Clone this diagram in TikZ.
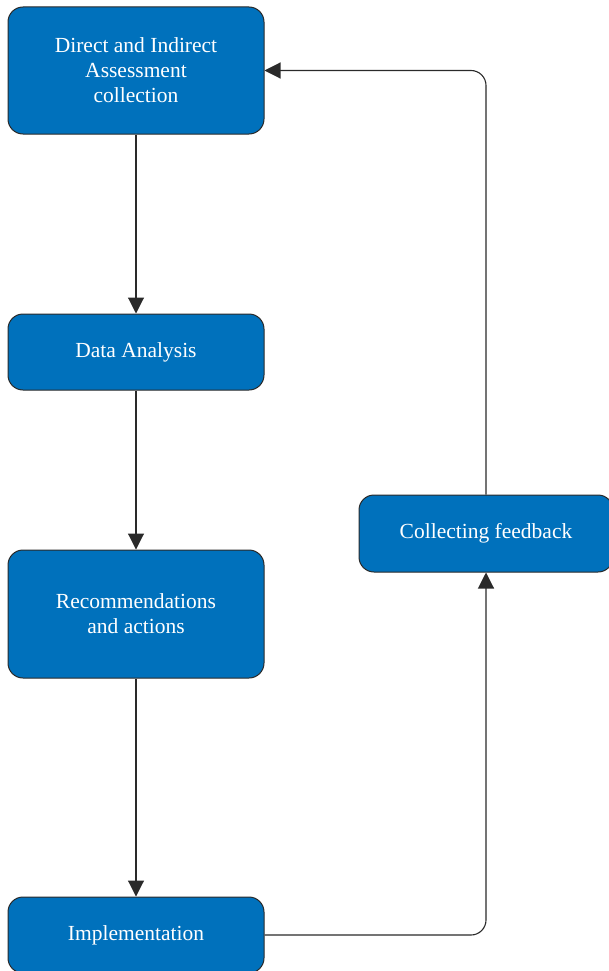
\documentclass[tikz,border=0pt]{standalone}
\usepackage{fontspec}
\setmainfont{Liberation Serif}
\usetikzlibrary{arrows.meta}
\definecolor{boxblue}{HTML}{0071BC}
\definecolor{edgegray}{HTML}{2A2A2A}
\begin{document}
\begin{tikzpicture}[x=1pt,y=-1pt,
  box/.style={draw=edgegray,line width=1pt,fill=boxblue,rounded corners=15pt,
    text=white,align=center,inner sep=0pt,font=\fontsize{21.5}{25}\selectfont},
  conn/.style={draw=edgegray,line width=1.1pt,-{Triangle[length=16pt,width=16pt]}},
  loopconn/.style={conn,rounded corners=15pt}]
\useasboundingbox (0,0) rectangle (609,971);
\node[box,minimum width=256pt,minimum height=127pt] (b1) at (136,70.5) {Direct and Indirect\\Assessment\\collection};
\node[box,minimum width=256pt,minimum height=76pt] (b2) at (136,352) {Data Analysis};
\node[box,minimum width=256pt,minimum height=128pt] (b3) at (136,614) {Recommendations\\and actions};
\node[box,minimum width=256pt,minimum height=76pt] (b4) at (136,935) {Implementation};
\node[box,minimum width=254pt,minimum height=77pt] (b5) at (486,533.5) {Collecting feedback};
\draw[conn] (b1) -- (b2);
\draw[conn] (b2) -- (b3);
\draw[conn] (b3) -- (b4);
\draw[loopconn] (b4.east) -| (b5.south);
\draw[loopconn] (b5.north) |- (b1.east);
\end{tikzpicture}
\end{document}
